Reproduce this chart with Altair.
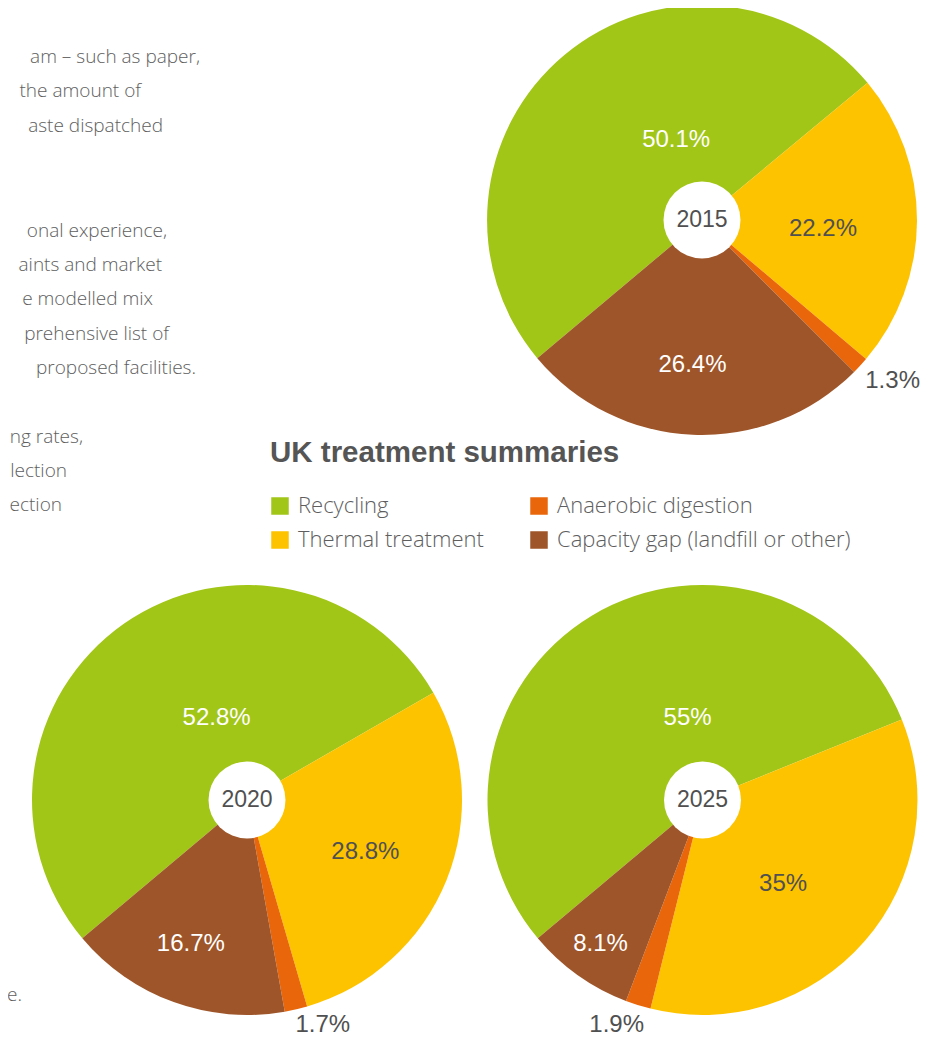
import math
import altair as alt
import pandas as pd

# ---------------- data ----------------
categories = ["Recycling", "Thermal treatment", "Anaerobic digestion",
              "Capacity gap (landfill or other)"]
colors = ["#a2c617", "#fdc300", "#e9660a", "#9e5529"]

years = ["2015", "2020", "2025"]
values_2015 = [50.1, 22.2, 1.3, 26.4]
values_2020 = [52.8, 28.8, 1.7, 16.7]
values_2025 = [55.0, 35.0, 1.9, 8.1]
year_values = {"2015": values_2015, "2020": values_2020, "2025": values_2025}

title_text = "UK treatment summaries"

# fragments of body text cut by the left edge of the page
body_lines = ["am \u2013 such as paper,", "the amount of", "aste dispatched",
              "onal experience,", "aints and market", "e modelled mix",
              "prehensive list of", " proposed facilities.",
              "ng rates,", "lection", "ection", "e."]

# ---------------- layout (page pixels) ----------------
M = 8  # page margin
body_right = [200, 141, 163, 167, 162, 153, 169, 196, 83, 67, 62, 22]
body_base = [63, 97, 132, 237, 271, 305, 340, 374, 443, 477, 511, 1001]

pie_center = {"2015": (702, 220), "2020": (247, 800), "2025": (702.5, 800)}
PIE_R = 215
HOLE_D = 77
label_radius = {"Recycling": 95, "Thermal treatment": 120,
                "Anaerobic digestion": 240, "Capacity gap (landfill or other)": 150}
label_offset = {
    "2015": {"Recycling": (35, -7), "Thermal treatment": (1, 8),
             "Anaerobic digestion": (14, -2), "Capacity gap (landfill or other)": (-3, -5)},
    "2020": {"Recycling": (24, -4), "Thermal treatment": (7, 7),
             "Anaerobic digestion": (21, -9), "Capacity gap (landfill or other)": (-5, 3)},
    "2025": {"Recycling": (34, -1), "Thermal treatment": (-10, 5),
             "Anaerobic digestion": (-14, -4), "Capacity gap (landfill or other)": (-15, 22)},
}
label_color = {"Recycling": "white", "Thermal treatment": "#505050",
               "Anaerobic digestion": "#505050",
               "Capacity gap (landfill or other)": "white"}

FONT = "Liberation Sans"
LIGHT_FONT = "Open Sans"
GREY = "#505050"
LIGHT_GREY = "#5e5e5e"

start = math.radians(230)
theta_scale = alt.Scale(domain=[0, 100], range=[start, start + 2 * math.pi])
color_scale = alt.Scale(domain=categories, range=colors)
legend = alt.Legend(
    title=None, orient="none", legendX=269 - M, legendY=495 - M, columns=2,
    symbolType="square", symbolSize=306, symbolStrokeWidth=0, symbolOpacity=1,
    labelFont=LIGHT_FONT, labelFontSize=22, labelFontWeight=300,
    labelColor=LIGHT_GREY, labelOffset=7, columnPadding=44, rowPadding=12,
    padding=0, labelLimit=400,
)

layers = []

for yr in years:
    cx, cy = pie_center[yr]
    df = pd.DataFrame({
        "category": categories,
        "value": year_values[yr],
        "rank": [1, 2, 3, 4],
        "label": [f"{v:g}%" for v in year_values[yr]],
    })
    base = alt.Chart(df)
    arc = base.mark_arc(radius=PIE_R).encode(
        theta=alt.Theta("value:Q", stack=True, scale=theta_scale),
        order=alt.Order("rank:Q"),
        color=alt.Color("category:N", scale=color_scale, legend=legend),
        x=alt.value(cx - M), y=alt.value(cy - M),
    )
    layers.append(arc)
    for cat in categories:
        dx, dy = label_offset[yr][cat]
        txt = base.transform_window(
            cum="sum(value)", sort=[alt.SortField("rank")], frame=[None, 0]
        ).transform_calculate(
            mid="datum.cum - datum.value / 2"
        ).transform_filter(
            alt.datum.category == cat
        ).mark_text(
            radius=label_radius[cat], dx=dx, dy=dy, font=FONT, fontSize=24,
            color=label_color[cat], align="center", baseline="middle",
        ).encode(
            theta=alt.Theta("mid:Q", stack=False, scale=theta_scale),
            text="label:N",
            x=alt.value(cx - M), y=alt.value(cy - M),
        )
        layers.append(txt)
    hole_df = pd.DataFrame({"year": [yr]})
    hole = alt.Chart(hole_df).mark_circle(
        size=HOLE_D * HOLE_D, color="white", opacity=1
    ).encode(x=alt.value(cx - M), y=alt.value(cy - M))
    year_txt = alt.Chart(hole_df).mark_text(
        font=FONT, fontSize=23, color=GREY, align="center", baseline="middle"
    ).encode(text="year:N", x=alt.value(cx - M), y=alt.value(cy - M))
    layers += [hole, year_txt]

# title
layers.append(
    alt.Chart(pd.DataFrame({"t": [title_text]})).mark_text(
        font=FONT, fontSize=29.5, fontWeight="bold", color="#555555",
        align="left", baseline="alphabetic",
    ).encode(text="t:N", x=alt.value(270 - M), y=alt.value(462 - M))
)

# body text fragments
for line, xr, yb in zip(body_lines, body_right, body_base):
    layers.append(
        alt.Chart(pd.DataFrame({"t": [line]})).mark_text(
            font=LIGHT_FONT, fontSize=19, fontWeight=300, color=LIGHT_GREY,
            align="right", baseline="alphabetic",
        ).encode(text="t:N", x=alt.value(xr - M), y=alt.value(yb - M))
    )

chart = alt.layer(*layers).properties(
    width=929, height=1029, padding=0, autosize="none"
).configure_view(strokeWidth=0)

chart.save("out.html", embed_options={"renderer": "svg", "actions": False})
